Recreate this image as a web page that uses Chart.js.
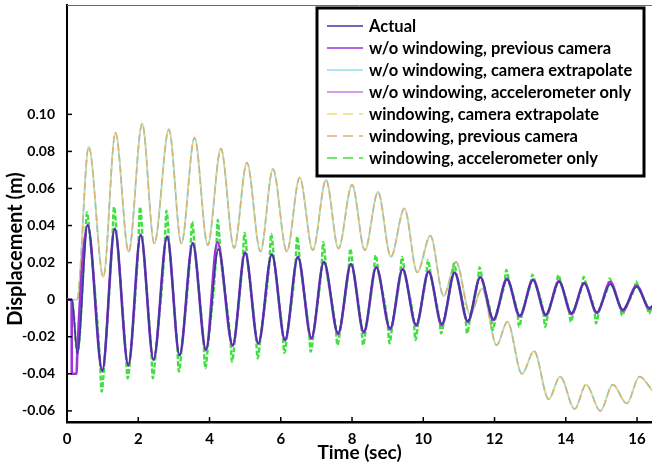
<!DOCTYPE html>
<html><head><meta charset="utf-8">
<script src="https://cdn.jsdelivr.net/npm/chart.js@4.4.1/dist/chart.umd.min.js"></script>
<style>html,body{margin:0;padding:0;background:#fff;}canvas{display:block;}</style>
</head><body>
<canvas id="c" width="652" height="464"></canvas>
<script>
const seriesLabels = [
  'Actual',
  'w/o windowing, previous camera',
  'w/o windowing, camera extrapolate',
  'w/o windowing, accelerometer only',
  'windowing, camera extrapolate',
  'windowing, previous camera',
  'windowing, accelerometer only'
];
const xTickValues = [0,2,4,6,8,10,12,14,16];
const yTickValues = [-0.06,-0.04,-0.02,0,0.02,0.04,0.06,0.08,0.10];
const yTickLabels = ['-0.06','-0.04','-0.02','0','0.02','0.04','0.06','0.08','0.10'];

// Actual (extrema)
const actualT = [0,0.14,0.29,0.58,0.99,1.34,1.72,2.07,2.43,2.81,3.16,3.53,3.90,4.25,4.65,5.00,5.37,5.75,6.12,6.48,6.86,7.21,7.61,7.97,8.33,8.68,9.07,9.42,9.80,10.15,10.52,10.88,11.25,11.60,11.97,12.35,12.71,13.08,13.44,13.81,14.16,14.52,14.87,15.25,15.60,15.99,16.35,16.45];
const actualV = [0,0,-0.029,0.0402,-0.0383,0.0384,-0.0352,0.0348,-0.0322,0.0339,-0.0299,0.0303,-0.027,0.0272,-0.0245,0.0253,-0.0236,0.0245,-0.0216,0.023,-0.0206,0.0202,-0.018,0.0192,-0.0173,0.0174,-0.0155,0.0163,-0.0135,0.015,-0.013,0.0145,-0.0115,0.012,-0.0105,0.0109,-0.0086,0.0106,-0.008,0.0097,-0.0072,0.0088,-0.0068,0.0084,-0.0054,0.007,-0.0045,-0.003];

// w/o windowing, previous camera
const prevCamT = [0,0.13,0.135,0.27,0.285,0.58,0.99,1.34,1.72,2.07,2.43,2.81,3.16,3.53,3.90,4.22,4.65,5.00,5.37,5.75,6.12,6.48,6.86,7.21,7.61,7.97,8.33,8.68,9.07,9.42,9.80,10.15,10.52,10.88,11.25,11.60,11.97,12.35,12.71,13.08,13.44,13.81,14.16,14.52,14.87,15.25,15.60,15.99,16.35,16.45];
const prevCamV = [0,0,-0.04,-0.04,-0.031,0.0402,-0.0385,0.038,-0.0355,0.035,-0.0325,0.034,-0.030,0.0305,-0.0272,0.031,-0.0248,0.0255,-0.0238,0.0245,-0.022,0.0232,-0.021,0.0205,-0.0185,0.0192,-0.0178,0.0176,-0.016,0.0165,-0.014,0.0152,-0.0138,0.0147,-0.012,0.0122,-0.011,0.0112,-0.009,0.0108,-0.0085,0.010,-0.0078,0.009,-0.0072,0.0095,-0.006,0.0075,-0.005,-0.0035];

// camera extrapolate (drifting curve)
const driftT = [0,0.28,0.61,1.02,1.36,1.73,2.11,2.45,2.86,3.21,3.58,3.95,4.32,4.69,5.05,5.43,5.78,6.17,6.53,6.90,7.27,7.62,8.00,8.36,8.73,9.09,9.47,9.83,10.20,10.57,10.92,11.32,11.65,12.06,12.36,12.77,13.11,13.52,13.84,14.25,14.57,14.97,15.32,15.71,16.07,16.45];
const driftV = [0,0,0.0824,0.0123,0.0901,0.0258,0.095,0.0303,0.0919,0.0303,0.0874,0.0294,0.0815,0.0279,0.074,0.026,0.0705,0.026,0.0659,0.0267,0.0646,0.0276,0.0621,0.0267,0.0581,0.0231,0.0492,0.0148,0.0345,0.002,0.0204,-0.008,0.006,-0.0245,-0.0119,-0.040,-0.0278,-0.0537,-0.0415,-0.059,-0.0458,-0.060,-0.0458,-0.056,-0.0415,-0.0496];

// windowing, accelerometer only (spiky at extrema)
const greenT = [0,0.14,0.29,
 0.51,0.56,0.65, 0.92,0.97,1.06, 1.27,1.32,1.41, 1.65,1.70,1.79, 2.00,2.05,2.14, 2.36,2.41,2.50,
 2.74,2.79,2.88, 3.09,3.14,3.23, 3.46,3.51,3.60, 3.83,3.88,3.97, 4.18,4.23,4.32, 4.58,4.63,4.72,
 4.93,4.98,5.07, 5.30,5.35,5.44, 5.68,5.73,5.82, 6.05,6.10,6.19, 6.41,6.46,6.55, 6.79,6.84,6.93,
 7.14,7.19,7.28, 7.54,7.59,7.68, 7.90,7.95,8.04, 8.26,8.31,8.40, 8.61,8.66,8.75, 9.00,9.05,9.14,
 9.35,9.40,9.49, 9.73,9.78,9.87, 10.08,10.13,10.22, 10.45,10.50,10.59, 10.81,10.86,10.95, 11.18,11.23,11.32,
 11.53,11.58,11.67, 11.90,11.95,12.04, 12.28,12.33,12.42, 12.64,12.69,12.78, 13.01,13.06,13.15, 13.37,13.42,13.51,
 13.74,13.79,13.88, 14.09,14.14,14.23, 14.45,14.50,14.59, 14.80,14.85,14.94, 15.18,15.23,15.32, 15.53,15.58,15.67,
 15.92,15.97,16.06, 16.28,16.33,16.42];
const greenV = [0,0,-0.029,
 0.0326,0.047,0.0326, -0.031,-0.0496,-0.031, 0.0311,0.050,0.0311, -0.0285,-0.0424,-0.0285, 0.0282,0.050,0.0282, -0.0261,-0.0424,-0.0261,
 0.0275,0.048,0.0275, -0.0242,-0.0388,-0.0242, 0.0245,0.042,0.0245, -0.0219,-0.037,-0.0219, 0.022,0.043,0.022, -0.0198,-0.0334,-0.0198,
 0.0205,0.036,0.0205, -0.0191,-0.0316,-0.0191, 0.0198,0.0355,0.0198, -0.0175,-0.0286,-0.0175, 0.0186,0.034,0.0186, -0.0167,-0.028,-0.0167,
 0.0164,0.031,0.0164, -0.0146,-0.0245,-0.0146, 0.0156,0.0275,0.0156, -0.014,-0.0245,-0.014, 0.0141,0.024,0.0141, -0.0126,-0.0236,-0.0126,
 0.0132,0.0231,0.0132, -0.0109,-0.0218,-0.0109, 0.0122,0.0213,0.0122, -0.0105,-0.0182,-0.0105, 0.0117,0.0196,0.0117, -0.0093,-0.0182,-0.0093,
 0.0097,0.0174,0.0097, -0.0085,-0.0164,-0.0085, 0.0088,0.016,0.0088, -0.007,-0.0146,-0.007, 0.0086,0.0135,0.0086, -0.0065,-0.0146,-0.0065,
 0.0079,0.0133,0.0079, -0.0058,-0.012,-0.0058, 0.0071,0.0123,0.0071, -0.0055,-0.0128,-0.0055, 0.0068,0.0115,0.0068, -0.0044,-0.0085,-0.0044,
 0.0057,0.0098,0.0057, -0.0036,-0.0075,-0.0036];

const pts = (T, V) => T.map((t, i) => ({x: t, y: V[i]}));
const FONT = 'Lato';

const datasets = [
  {label: seriesLabels[0], data: pts(actualT, actualV), borderColor: '#3d3a9e', borderWidth: 1.8, order: 0},
  {label: seriesLabels[1], data: pts(prevCamT, prevCamV), borderColor: '#9c34d6', borderWidth: 2.6, order: 1},
  {label: seriesLabels[2], data: pts(driftT, driftV), borderColor: '#92dcf0', borderWidth: 1.8, order: 6},
  {label: seriesLabels[3], data: pts(actualT, actualV), borderColor: '#c47ae0', borderWidth: 1.5, order: 2},
  {label: seriesLabels[4], data: pts(driftT, driftV), borderColor: '#eede70', borderWidth: 1.6, borderDash: [4, 7], borderDashOffset: 6, order: 5},
  {label: seriesLabels[5], data: pts(driftT, driftV), borderColor: '#d5b47a', borderWidth: 1.6, borderDash: [7, 4], order: 4},
  {label: seriesLabels[6], data: pts(greenT, greenV), borderColor: '#3fe03f', borderWidth: 2.4, borderDash: [5, 2], order: 3}
];

const decor = {
  id: 'decor',
  afterDatasetsDraw(chart) {
    const {ctx, chartArea: a, scales: {x, y}} = chart;
    ctx.save();
    ctx.strokeStyle = '#6a6a6a'; ctx.lineWidth = 1;
    ctx.beginPath(); ctx.moveTo(a.left, a.top + 0.5); ctx.lineTo(a.right, a.top + 0.5); ctx.stroke();
    ctx.strokeStyle = '#000'; ctx.lineWidth = 1.5;
    xTickValues.forEach(v => { const p = x.getPixelForValue(v); ctx.beginPath(); ctx.moveTo(p, a.bottom); ctx.lineTo(p, a.bottom - 5); ctx.stroke(); });
    yTickValues.forEach(v => { const p = y.getPixelForValue(v); ctx.beginPath(); ctx.moveTo(a.left, p); ctx.lineTo(a.left + 5, p); ctx.stroke(); });
    // y axis title
    ctx.save();
    ctx.translate(16, 249); ctx.rotate(-Math.PI / 2);
    ctx.font = 'bold 20px ' + FONT; ctx.fillStyle = '#000'; ctx.textAlign = 'center'; ctx.textBaseline = 'middle';
    ctx.fillText('Displacement (m)', 0, 0);
    ctx.restore();
    // legend box
    const bx = 317, by = 8, bw = 327, bh = 168;
    ctx.fillStyle = '#fff'; ctx.fillRect(bx, by, bw, bh);
    ctx.strokeStyle = '#000'; ctx.lineWidth = 3; ctx.strokeRect(bx, by, bw, bh);
    ctx.font = 'bold 16.5px ' + FONT; ctx.textAlign = 'left'; ctx.textBaseline = 'middle';
    chart.data.datasets.forEach((ds, i) => {
      const cy = 26 + i * 22;
      ctx.strokeStyle = ds.borderColor; ctx.lineWidth = 1.6;
      ctx.setLineDash(ds.borderDash ? [10, 6] : []);
      ctx.beginPath(); ctx.moveTo(327, cy); ctx.lineTo(363, cy); ctx.stroke();
      ctx.setLineDash([]);
      ctx.fillStyle = '#000';
      ctx.fillText(ds.label, 369, cy + 1);
    });
    ctx.restore();
  }
};

new Chart(document.getElementById('c'), {
  type: 'line',
  data: {datasets},
  options: {
    responsive: false, animation: false, devicePixelRatio: 1,
    layout: {padding: {top: 5, left: 0, right: 0, bottom: 0}},
    elements: {point: {radius: 0}, line: {cubicInterpolationMode: 'monotone', fill: false}},
    plugins: {legend: {display: false}, tooltip: {enabled: false}},
    scales: {
      x: {
        type: 'linear', min: 0, max: 16.42,
        afterBuildTicks: s => { s.ticks = xTickValues.map(v => ({value: v})); },
        afterFit: s => { s.height = 42; s.paddingLeft = 0; s.paddingRight = 0; },
        grid: {display: false},
        border: {display: true, color: '#000', width: 2.5},
        ticks: {font: {family: FONT, size: 15, weight: 'bold'}, color: '#000', padding: 0, maxRotation: 0, autoSkip: false, callback: v => String(v)},
        title: {display: true, text: 'Time (sec)', font: {family: FONT, size: 19, weight: 'bold'}, color: '#000', padding: {top: 0, bottom: 0}}
      },
      y: {
        type: 'linear', min: -0.066, max: 0.159,
        afterBuildTicks: s => { s.ticks = yTickValues.map(v => ({value: v})); },
        afterFit: s => { s.width = 67; s.paddingTop = 0; s.paddingBottom = 0; },
        grid: {display: false},
        border: {display: true, color: '#000', width: 2},
        ticks: {font: {family: FONT, size: 14, weight: 'bold'}, color: '#000', padding: 4, autoSkip: false, callback: (v, i) => yTickLabels[i]}
      }
    }
  },
  plugins: [decor]
});
</script>
</body></html>
